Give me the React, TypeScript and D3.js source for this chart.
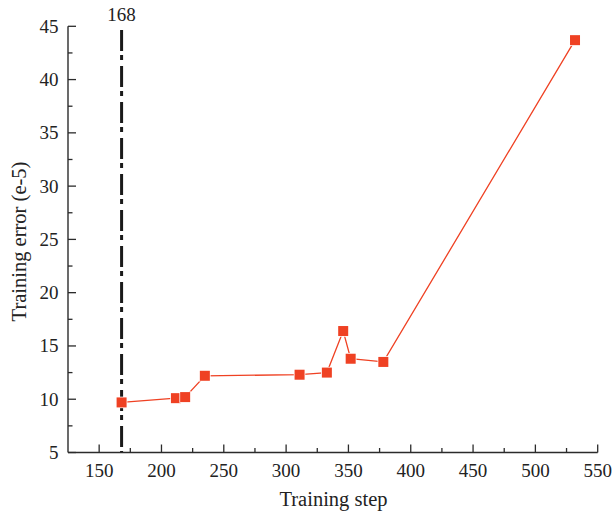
import React from "react";
import * as d3 from "d3";

const steps = [168, 211.6, 219, 234.8, 310.8, 332.7, 345.8, 351.8, 378, 531.8];
const errors = [9.7, 10.1, 10.2, 12.2, 12.3, 12.5, 16.4, 13.8, 13.5, 43.7];
const xTicks = [150, 200, 250, 300, 350, 400, 450, 500, 550];
const yTicks = [5, 10, 15, 20, 25, 30, 35, 40, 45];
const markerStep = 168;

const W = 613;
const H = 515;
const FONT = "'Liberation Serif', 'DejaVu Serif', serif";
const RED = "#EF4123";

export default function App() {
  const x = d3.scaleLinear().domain([125, 550]).range([68, 597.7]);
  const y = d3.scaleLinear().domain([5, 45]).range([452.5, 26.3]);
  const xMinor = d3.range(175, 550, 50);
  const yMinor = d3.range(7.5, 45, 5);
  const line = d3
    .line<number>()
    .x((_, i) => x(steps[i]))
    .y((d) => y(d));
  const axisColor = "#2b2b2b";
  return (
    <svg width={W} height={H} style={{ position: "absolute", left: 0, top: 0, background: "#fff" }}>
      <line
        x1={x(markerStep)}
        x2={x(markerStep)}
        y1={30}
        y2={y(5)}
        stroke="#1a1a1a"
        strokeWidth={3}
        strokeDasharray="21,4,5,6"
      />
      <text x={x(markerStep)} y={21} textAnchor="middle" fontFamily={FONT} fontSize={19} fill="#222">
        {markerStep}
      </text>
      <line x1={x(125)} x2={x(550)} y1={y(5)} y2={y(5)} stroke={axisColor} strokeWidth={1.4} />
      <line x1={x(125)} x2={x(125)} y1={y(5)} y2={y(45)} stroke={axisColor} strokeWidth={1.4} />
      {xTicks.map((t) => (
        <g key={"xt" + t}>
          <line x1={x(t)} x2={x(t)} y1={y(5)} y2={y(5) - 8} stroke={axisColor} strokeWidth={1.3} />
          <text x={x(t)} y={477} textAnchor="middle" fontFamily={FONT} fontSize={19} fill="#222">
            {t}
          </text>
        </g>
      ))}
      {xMinor.map((t) => (
        <line key={"xm" + t} x1={x(t)} x2={x(t)} y1={y(5)} y2={y(5) - 4.5} stroke={axisColor} strokeWidth={1.3} />
      ))}
      {yTicks.map((t) => (
        <g key={"yt" + t}>
          <line x1={x(125)} x2={x(125) + 8} y1={y(t)} y2={y(t)} stroke={axisColor} strokeWidth={1.3} />
          <text x={58.5} y={y(t) + 6.5} textAnchor="end" fontFamily={FONT} fontSize={19} fill="#222">
            {t}
          </text>
        </g>
      ))}
      {yMinor.map((t) => (
        <line key={"ym" + t} x1={x(125)} x2={x(125) + 4.5} y1={y(t)} y2={y(t)} stroke={axisColor} strokeWidth={1.3} />
      ))}
      <text x={333.5} y={506} textAnchor="middle" fontFamily={FONT} fontSize={20.5} fill="#222">
        Training step
      </text>
      <text
        transform={`translate(26, 241.5) rotate(-90)`}
        textAnchor="middle"
        fontFamily={FONT}
        fontSize={20.5}
        fill="#222"
      >
        Training error (e-5)
      </text>
      <path d={line(errors) || ""} fill="none" stroke={RED} strokeWidth={1.3} />
      {errors.map((e, i) => (
        <rect
          key={"m" + i}
          x={x(steps[i]) - 5}
          y={y(e) - 5}
          width={10}
          height={10}
          fill={RED}
          stroke="#fff"
          strokeWidth={1.5}
          paintOrder="stroke"
        />
      ))}
    </svg>
  );
}
